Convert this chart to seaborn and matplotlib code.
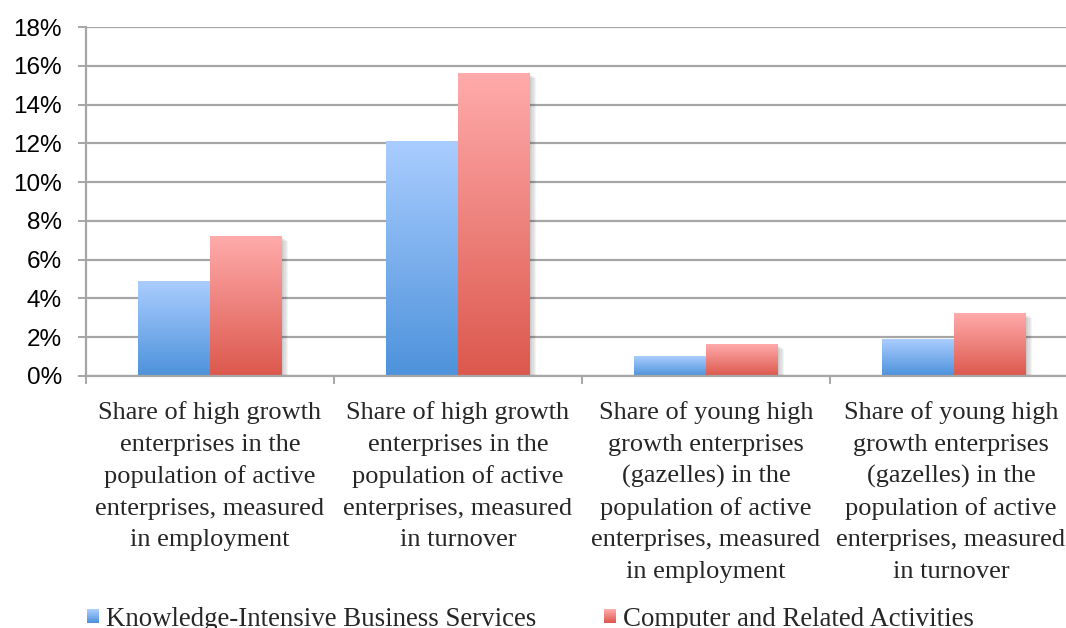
import numpy as np
import pandas as pd
import matplotlib
matplotlib.use("Agg")
import matplotlib.pyplot as plt
import matplotlib.patheffects as pe
import matplotlib.transforms as mtransforms
from matplotlib.patches import Rectangle
from matplotlib.legend_handler import HandlerBase
from matplotlib.colors import to_rgb
import seaborn as sns

# ---- data -------------------------------------------------------------
categories = [
    "Share of high growth\nenterprises in the\npopulation of active\nenterprises, measured\nin employment",
    "Share of high growth\nenterprises in the\npopulation of active\nenterprises, measured\nin turnover",
    "Share of young high\ngrowth enterprises\n(gazelles) in the\npopulation of active\nenterprises, measured\nin employment",
    "Share of young high\ngrowth enterprises\n(gazelles) in the\npopulation of active\nenterprises, measured\nin turnover",
]
series_names = ["Knowledge-Intensive Business Services", "Computer and Related Activities"]
kibs_values = [4.9, 12.1, 1.0, 1.9]
computer_values = [7.2, 15.6, 1.6, 3.2]
y_ticks = [0, 2, 4, 6, 8, 10, 12, 14, 16, 18]

# ---- styling ----------------------------------------------------------
sns.set_style("white")
plt.rcParams["font.family"] = ["Liberation Serif", "DejaVu Serif"]

GRID = "#a6a6a6"
gradients = {
    series_names[0]: ("#aacdff", "#4d92db"),
    series_names[1]: ("#ffabab", "#dc584d"),
}

df = pd.DataFrame({
    "metric": categories * 2,
    "sector": [series_names[0]] * 4 + [series_names[1]] * 4,
    "share": kibs_values + computer_values,
})

fig = plt.figure(figsize=(10.66, 6.28), dpi=100)
ax = fig.add_axes([86 / 1066, 1 - 376 / 628, 992 / 1066, 349.5 / 628])

sns.barplot(
    data=df, x="metric", y="share", hue="sector",
    order=categories, hue_order=series_names,
    palette=[gradients[s][1] for s in series_names],
    width=0.577, gap=0, saturation=1, legend=False, ax=ax, zorder=2,
)


def gradient_image(top, bottom, n=256):
    t = np.linspace(0, 1, n)[:, None]
    c0 = np.array(to_rgb(top))
    c1 = np.array(to_rgb(bottom))
    return (c0 * (1 - t) + c1 * t)[:, None, :]


shadow = [pe.SimplePatchShadow(offset=(k, -0.6 * k), shadow_rgbFace="k", alpha=0.045)
          for k in range(1, 6)] + [pe.Normal()]

bars = [p for p in ax.patches if isinstance(p, Rectangle)]
for i, patch in enumerate(bars):
    sector = series_names[i // len(categories)]
    top, bottom = gradients[sector]
    x, w, h = patch.get_x(), patch.get_width(), patch.get_height()
    patch.set_edgecolor("none")
    patch.set_path_effects(shadow)
    ax.imshow(gradient_image(top, bottom), extent=(x, x + w, 0, h),
              origin="upper", aspect="auto", zorder=2.5, interpolation="bilinear")

ax.set_xlim(-0.5, len(categories) - 0.5)
ax.set_ylim(0, 18.03)

# y axis
ax.set_yticks(y_ticks)
ax.set_yticklabels([f"{v}%" for v in y_ticks], family=["Liberation Sans", "DejaVu Sans"],
                   fontsize=17.5)
ax.yaxis.grid(True, color=GRID, linewidth=1.6, zorder=0)
ax.set_axisbelow(True)
ax.tick_params(axis="y", direction="out", length=5.8, width=1.4, color=GRID,
               pad=11.5, left=True, labelcolor="black")

# x axis: tick marks at the category boundaries, labels written below each centre
ax.set_xticks(np.arange(-0.5, len(categories)))
ax.set_xticklabels([])
ax.tick_params(axis="x", which="major", direction="out", length=5.8, width=1.4,
               color=GRID, bottom=True)
ax.set_xlabel("")
ax.set_ylabel("")

# category labels, one baseline every LINE_PX pixels below the axis
FIRST_BASELINE_PX = 43.5
LINE_PX = 31.7
label_base = mtransforms.blended_transform_factory(ax.transData, ax.transAxes)
for i, label in enumerate(categories):
    dx = -3 if i == len(categories) - 1 else 0
    for j, line in enumerate(label.split("\n")):
        dy = FIRST_BASELINE_PX + j * LINE_PX
        tr = label_base + mtransforms.ScaledTranslation(dx / 100, -dy / 100,
                                                        fig.dpi_scale_trans)
        ax.text(i, 0, line, transform=tr, ha="center", va="baseline",
                fontsize=19.0, clip_on=False)

for side in ("top", "right"):
    ax.spines[side].set_visible(False)
for side in ("left", "bottom"):
    ax.spines[side].set_color(GRID)
    ax.spines[side].set_linewidth(1.6)


# legend with small gradient squares
class GradientSquare(HandlerBase):
    def __init__(self, top, bottom, steps=14):
        super().__init__()
        self.top, self.bottom, self.steps = top, bottom, steps

    def create_artists(self, legend, orig_handle, xdescent, ydescent,
                       width, height, fontsize, trans):
        colors = gradient_image(self.top, self.bottom, self.steps)[:, 0, :]
        step = height / self.steps
        artists = []
        for j, c in enumerate(colors):
            y0 = -ydescent + height - (j + 1) * step
            artists.append(Rectangle((-xdescent, y0), width, step * 1.05,
                                     facecolor=c, edgecolor="none",
                                     transform=trans))
        return artists


handles = [Rectangle((0, 0), 1, 1) for _ in series_names]
handler_map = {h: GradientSquare(*gradients[s]) for h, s in zip(handles, series_names)}
fig.legend(handles, series_names, handler_map=handler_map,
           loc="upper center", bbox_to_anchor=(0.4977, 0.034), ncol=2,
           frameon=False, fontsize=19.4, borderpad=0, borderaxespad=0,
           handlelength=0.45, handleheight=0.45, handletextpad=0.26,
           columnspacing=2.5)

fig.savefig("out.png", dpi=100)
